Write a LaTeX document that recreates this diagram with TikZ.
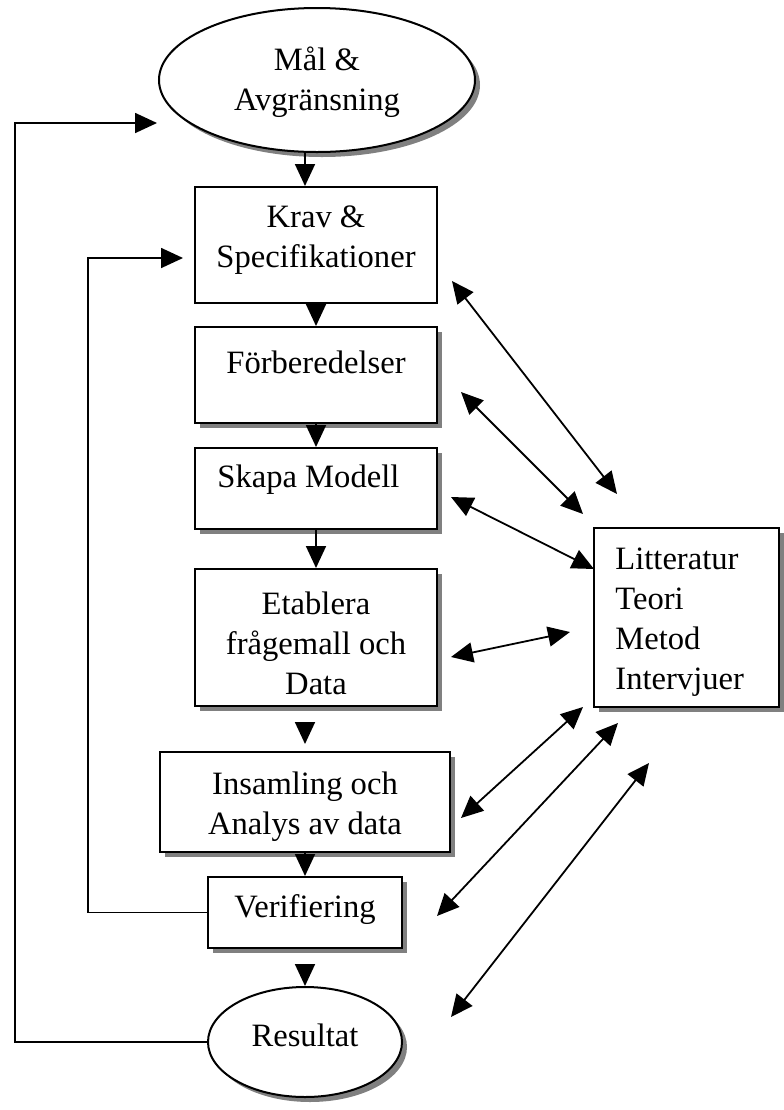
\documentclass[tikz,border=0pt]{standalone}
\usepackage{fontspec}
\setmainfont{Liberation Serif}
\usetikzlibrary{shapes.geometric,shadows,arrows.meta}
\begin{document}
\begin{tikzpicture}[x=0.5pt,y=-0.5pt,
  every node/.style={font=\fontsize{16.3}{20}\selectfont},
  shade/.style={drop shadow={shadow xshift=2.5pt,shadow yshift=-2.5pt,fill=black!50,opacity=1}},
  box/.style={draw,line width=1pt,fill=white,rectangle,inner sep=0pt},
  oval/.style={draw,line width=1pt,fill=white,ellipse,inner sep=0pt},
  txt/.style={align=center,inner sep=0pt},
  flow/.style={line width=0.9pt,-{Triangle[length=11pt,width=10pt]}},
  both/.style={line width=0.9pt,{Triangle[length=11pt,width=10pt]}-{Triangle[length=11pt,width=10pt]}}]
\useasboundingbox (0,0) rectangle (783,1110);

% process steps
\node[oval,shade,minimum width=158pt,minimum height=72pt] (mal) at (317,80) {};
\node[txt] (maltxt) at (317,82) {Mål \&\\Avgränsning};

\node[box,minimum width=121pt,minimum height=58pt] (krav) at (316,245) {};
\node[txt] (kravtxt) at (316,240) {Krav \&\\Specifikationer};

\node[box,shade,minimum width=121pt,minimum height=48pt] (forb) at (316,375) {};
\node[txt] (forbtxt) at (316,362) {Förberedelser};

\node[box,shade,minimum width=121pt,minimum height=40.5pt] (skapa) at (316,488.5) {};
\node[txt,anchor=west] (skapatxt) at (217,480) {Skapa Modell};

\node[box,shade,minimum width=121pt,minimum height=68.5pt] (etab) at (316,637.5) {};
\node[txt] (etabtxt) at (316,643) {Etablera\\frågemall och\\Data};

\node[box,shade,minimum width=145pt,minimum height=50pt] (insam) at (305,802) {};
\node[txt] (insamtxt) at (305,807) {Insamling och\\Analys av data};

\node[box,shade,minimum width=97pt,minimum height=35.5pt] (verif) at (305,912.5) {};
\node[txt] (veriftxt) at (305,910) {Verifiering};

\node[oval,shade,minimum width=97pt,minimum height=55pt] (res) at (305,1042) {};
\node[txt] (restxt) at (305,1035) {Resultat};

% knowledge sources
\node[box,shade,minimum width=92.5pt,minimum height=89.5pt] (lit) at (686.5,617.5) {};
\node[txt,anchor=west,align=left] (littxt) at (615,622) {Litteratur\\Teori\\Metod\\Intervjuer};

% main flow
\draw[flow] ([xshift=-6pt]mal.south) -- ([xshift=-6pt]mal.south |- krav.north);
\draw[flow] (krav.south) -- (forb.north);
\draw[flow] (forb.south) -- (skapa.north);
\draw[flow] (skapa.south) -- (etab.north);
\draw[flow] ([yshift=-8pt]etab.south -| insam.north) -- ([yshift=3.5pt]insam.north);
\draw[flow] (insam.south) -- (verif.north);
\draw[flow] ([yshift=-7.5pt]verif.south) -- (res.north);

% feedback loops
\coordinate (maltip) at (157,123);
\coordinate (kravtip) at (183,258);
\draw[flow] (res.west) -- (15,1042) |- (maltip);
\draw[flow] (verif.west) -- (88,912.5) |- (kravtip);

% exchange with the knowledge sources
\coordinate (a1) at (452,281); \coordinate (b1) at (617,494);
\coordinate (a2) at (461,392); \coordinate (b2) at (583,514);
\coordinate (a3) at (451,497); \coordinate (b3) at (594,569);
\coordinate (a4) at (451,657); \coordinate (b4) at (570,632);
\coordinate (a5) at (461,818); \coordinate (b5) at (583,707);
\coordinate (a6) at (437,916); \coordinate (b6) at (618,723);
\coordinate (a7) at (451,1017); \coordinate (b7) at (649,763);
\foreach \i in {1,...,7} \draw[both] (a\i) -- (b\i);
\end{tikzpicture}
\end{document}
